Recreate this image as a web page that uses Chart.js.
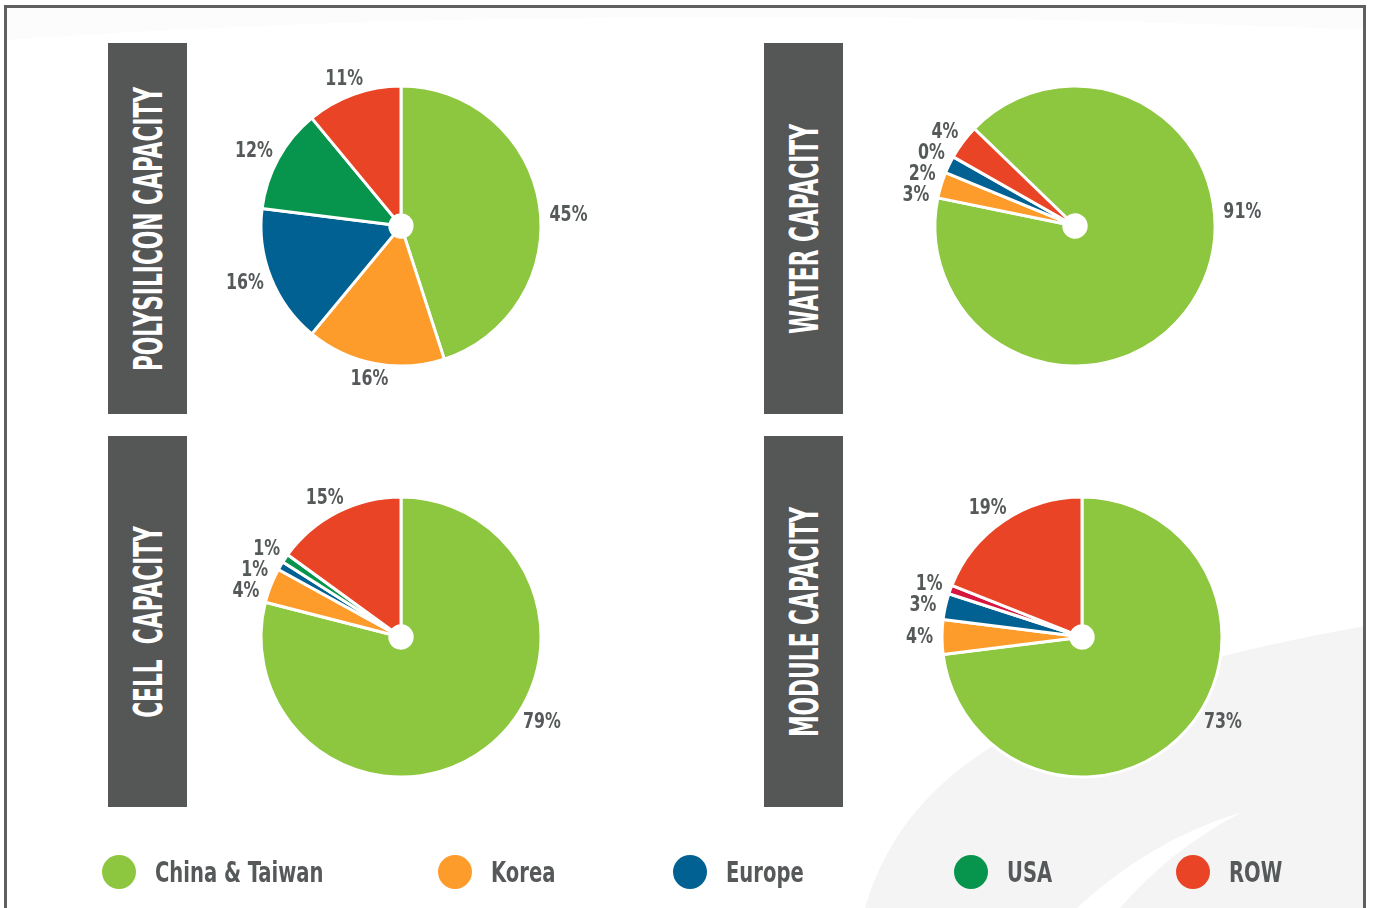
<!DOCTYPE html>
<html>
<head>
<meta charset="utf-8">
<title>Capacity by region</title>
<script src="https://cdn.jsdelivr.net/npm/chart.js@4.4.0/dist/chart.umd.min.js"></script>
<style>
  html, body { margin: 0; padding: 0; background: #fff; }
  body {
    width: 1373px; height: 908px; position: relative; overflow: hidden;
    font-family: 'Liberation Sans Narrow', 'DejaVu Sans Condensed', sans-serif;
  }
  #swoosh { position: absolute; left: 0; top: 0; }
  #frame {
    position: absolute; left: 4px; top: 5px; width: 1362px; height: 1000px;
    box-sizing: border-box; border: 3px solid #5e6060;
  }
  .tag { position: absolute; width: 79px; height: 371px; background: #545756; }
  .tag span {
    position: absolute; left: 50%; top: 50%; white-space: pre; color: #fff;
    font-weight: bold; font-size: 39px; line-height: 1;
    transform: translate(-50%, -50%) rotate(-90deg) scaleX(0.62);
  }
  canvas.pie { position: absolute; }
  .item { position: absolute; top: 855px; height: 34px; display: flex; align-items: center; }
  .dot { width: 34px; height: 34px; border-radius: 50%; margin-right: 19px; }
  .name { white-space: nowrap; }
  .name span {
    display: inline-block; font-weight: bold; font-size: 29px; color: #55595a;
    transform-origin: 0 50%; transform: scaleX(0.75);
  }
</style>
</head>
<body>
<svg id="swoosh" width="1373" height="908">
  <path d="M 7 40 C 400 12, 900 10, 1363 30 L 1363 8 L 7 8 Z" fill="#fcfcfc"/>
  <path d="M 865 908 C 900 790, 1000 690, 1366 626 L 1366 908 Z" fill="#f4f4f4"/>
  <path d="M 1077 908 Q 1150 840 1242 812 Q 1170 850 1120 908 Z" fill="#fff"/>
</svg>
<div id="frame"></div>

<script>
// regions and capacity shares (%)
const categories = ['China & Taiwan', 'Korea', 'Europe', 'USA', 'ROW'];
const polysilicon = [45, 16, 16, 12, 11];
const water = [91, 3, 2, 0, 4];
const cell = [79, 4, 1, 1, 15];
const moduleCap = [73, 4, 3, 1, 19];
const titles = ['POLYSILICON CAPACITY', 'WATER CAPACITY', 'CELL  CAPACITY', 'MODULE CAPACITY'];

const colors = ['#8dc63f', '#fd9c2b', '#006192', '#07944d', '#e84425'];
const moduleColors = ['#8dc63f', '#fd9c2b', '#006192', '#d7163f', '#e84425'];

const FONT = "'Liberation Sans Narrow', 'DejaVu Sans Condensed', sans-serif";

// where each panel sits on the page
const panels = [
  { title: titles[0], values: polysilicon, colors: colors,       tag: [108, 43],  center: [401, 226],  rotation: 0,   leadAngle: 86 },
  { title: titles[1], values: water,       colors: colors,       tag: [764, 43],  center: [1075, 226], rotation: 314, leadAngle: 85 },
  { title: titles[2], values: cell,        colors: colors,       tag: [108, 436], center: [401, 637],  rotation: 0,   leadAngle: 123 },
  { title: titles[3], values: moduleCap,   colors: moduleColors, tag: [764, 436], center: [1082, 637], rotation: 0,   leadAngle: 123 }
];
const legendLeft = [102, 438, 673, 954, 1176];

// percentage labels just outside each slice; thin slices get their labels stacked downward
const sliceLabels = {
  id: 'sliceLabels',
  afterDatasetsDraw(chart, args, opts) {
    const ctx = chart.ctx;
    const meta = chart.getDatasetMeta(0);
    const values = chart.data.datasets[0].data;
    ctx.save();
    ctx.font = opts.font;
    ctx.fillStyle = opts.color;
    ctx.textAlign = 'center';
    ctx.textBaseline = 'middle';
    const boxes = meta.data.map((arc, i) => {
      const p = arc.getProps(['x', 'y', 'startAngle', 'endAngle', 'outerRadius'], true);
      let a = (p.startAngle + p.endAngle) / 2;
      if (i === 0 && opts.leadAngle != null) a = (opts.leadAngle - 90) * Math.PI / 180;
      const text = values[i] + '%';
      const w = ctx.measureText(text).width * opts.squeeze;
      const r = p.outerRadius + opts.offset;
      const cos = Math.cos(a), sin = Math.sin(a);
      const x = p.x + cos * r + cos * w / 2;
      const y = p.y + sin * r + sin * opts.height / 2;
      return { text, w, x, y, cx: p.x, cy: p.y, side: cos < 0 ? -1 : 1,
               d: Math.hypot(x - p.x, y - p.y), moved: false };
    });
    const sorted = boxes.slice().sort((a, b) => a.y - b.y);
    for (let i = 1; i < sorted.length; i++) {
      const a = sorted[i - 1], b = sorted[i];
      if (Math.abs(a.x - b.x) > (a.w + b.w) / 2) continue;
      if (b.y - a.y < opts.gap) {
        b.y = a.y + opts.gap;
        b.moved = true;
      }
    }
    boxes.forEach(b => {
      if (b.moved) {
        const dy = b.y - b.cy;
        b.x = b.cx + b.side * Math.sqrt(Math.max(b.d * b.d - dy * dy, 0));
      }
      ctx.save();
      ctx.translate(b.x, b.y);
      ctx.scale(opts.squeeze, 1);
      ctx.fillText(b.text, 0, 0);
      ctx.restore();
    });
    ctx.restore();
  }
};

const SIZE = 440;

panels.forEach(panel => {
  // dark title tab
  const tag = document.createElement('div');
  tag.className = 'tag';
  tag.style.left = panel.tag[0] + 'px';
  tag.style.top = panel.tag[1] + 'px';
  const span = document.createElement('span');
  span.textContent = panel.title;
  tag.appendChild(span);
  document.body.appendChild(tag);

  const canvas = document.createElement('canvas');
  canvas.className = 'pie';
  canvas.width = SIZE;
  canvas.height = SIZE;
  canvas.style.left = (panel.center[0] - SIZE / 2) + 'px';
  canvas.style.top = (panel.center[1] - SIZE / 2) + 'px';
  document.body.appendChild(canvas);

  new Chart(canvas, {
    type: 'pie',
    data: {
      labels: categories,
      datasets: [{
        data: panel.values,
        backgroundColor: panel.colors,
        borderColor: '#ffffff',
        borderWidth: 3
      }]
    },
    options: {
      responsive: false,
      animation: false,
      events: [],
      rotation: panel.rotation,
      radius: 140,
      cutout: '8%',
      layout: { padding: 0 },
      plugins: {
        legend: { display: false },
        tooltip: { enabled: false },
        sliceLabels: {
          font: 'bold 22px ' + FONT,
          color: '#55595a',
          squeeze: 0.8,
          offset: 9,
          height: 14,
          gap: 21,
          leadAngle: panel.leadAngle
        }
      }
    },
    plugins: [sliceLabels]
  });
});

// shared legend along the bottom
categories.forEach((name, i) => {
  const item = document.createElement('div');
  item.className = 'item';
  item.style.left = legendLeft[i] + 'px';
  const dot = document.createElement('div');
  dot.className = 'dot';
  dot.style.background = colors[i];
  const box = document.createElement('div');
  box.className = 'name';
  const label = document.createElement('span');
  label.textContent = name;
  box.appendChild(label);
  item.appendChild(dot);
  item.appendChild(box);
  document.body.appendChild(item);
});
</script>
</body>
</html>
